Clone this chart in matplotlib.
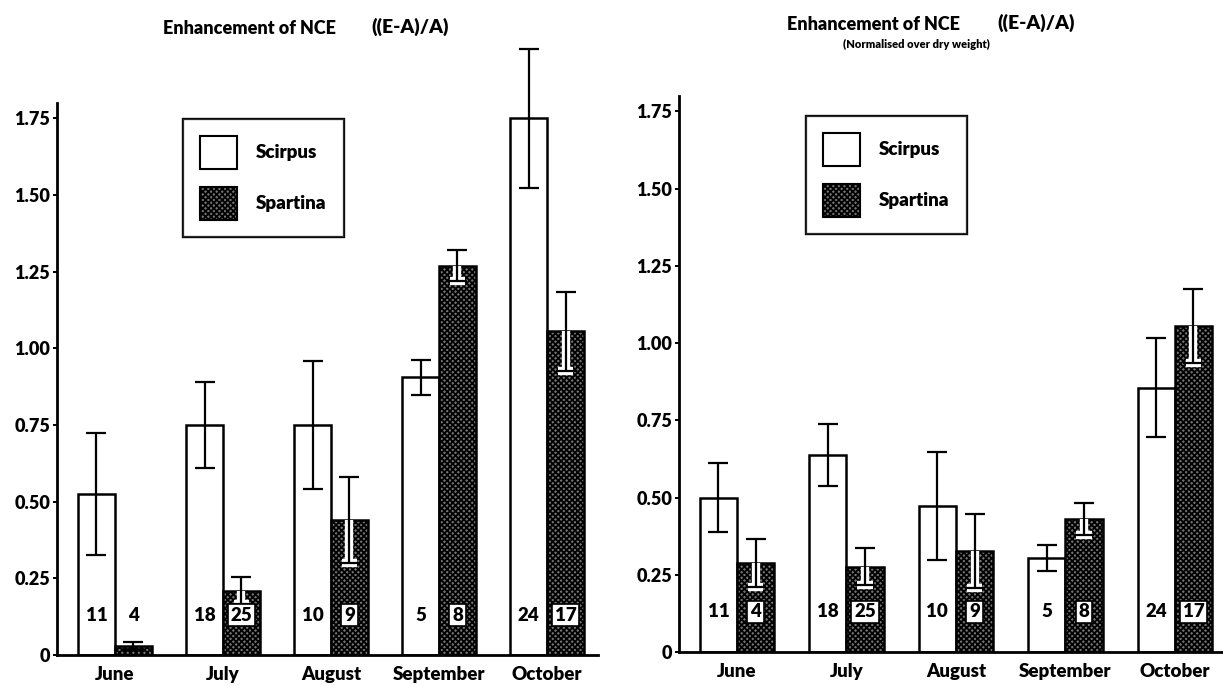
import numpy as np
import matplotlib
matplotlib.use('Agg')
import matplotlib.pyplot as plt
from matplotlib.patches import Patch

plt.rcParams['font.family'] = ['Lato', 'DejaVu Sans']
plt.rcParams['font.weight'] = 'bold'
plt.rcParams['hatch.linewidth'] = 1.3

# monthly means and error half-widths
months = ['June', 'July', 'August', 'September', 'October']

# ((E-A)/A), raw
scirpus_raw = [0.525, 0.75, 0.75, 0.905, 1.75]
scirpus_raw_err = [0.20, 0.14, 0.21, 0.057, 0.227]
spartina_raw = [0.03, 0.21, 0.44, 1.27, 1.055]
spartina_raw_err = [0.014, 0.043, 0.14, 0.052, 0.128]

# ((E-A)/A), normalised over dry weight
scirpus_dw = [0.50, 0.637, 0.473, 0.303, 0.855]
scirpus_dw_err = [0.113, 0.10, 0.175, 0.042, 0.16]
spartina_dw = [0.287, 0.276, 0.328, 0.43, 1.055]
spartina_dw_err = [0.078, 0.06, 0.12, 0.052, 0.12]

# number of samples
n_scirpus = [11, 18, 10, 5, 24]
n_spartina = [4, 25, 9, 8, 17]

yticks = [0, 0.25, 0.5, 0.75, 1.0, 1.25, 1.5, 1.75]
ytick_labels = ['0', '0.25', '0.50', '0.75', '1.00', '1.25', '1.50', '1.75']

W, H = 1223, 686
fig = plt.figure(figsize=(W / 100, H / 100), dpi=100)
fig.patch.set_facecolor('white')

ax1 = fig.add_axes([57 / W, 1 - 655 / H, (598 - 57) / W, (655 - 103) / H])
ax2 = fig.add_axes([679 / W, 1 - 652 / H, (1223 - 679) / W, (652 - 96) / H])

bw = 0.34
dark = '#767676'
hatch = 'xxxxxx'


def draw_panel(ax, sc, sc_err, sp, sp_err, xlim):
    x = np.arange(len(months))
    xs = x - bw / 2
    xp = x + bw / 2
    ax.bar(xs, sc, bw, color='white', edgecolor='black', linewidth=1.8, zorder=2)
    ax.bar(xp, sp, bw, color=dark, edgecolor='black', linewidth=1.8,
           hatch=hatch, zorder=2)
    # white channel for the lower half of the error bar inside the dark bars
    for xi, v, e in zip(xp, sp, sp_err):
        if v > 0.15:
            ax.plot([xi, xi], [v - e, v], color='white', lw=6, zorder=3,
                    solid_capstyle='butt')
            ax.plot([xi - 0.07, xi + 0.07], [v - e, v - e], color='white',
                    lw=6, zorder=3, solid_capstyle='butt')
    for xx, vv, ee in [(xs, sc, sc_err), (xp, sp, sp_err)]:
        eb = ax.errorbar(xx, vv, yerr=ee, fmt='none', ecolor='black',
                         elinewidth=1.6, capsize=7, capthick=1.6, zorder=4)
        for art in eb.lines[1] + eb.lines[2]:
            art.set_clip_on(False)

    for xi, n in zip(xs, n_scirpus):
        ax.text(xi, 0.13, str(n), ha='center', va='center', fontsize=13.5,
                fontweight='heavy', zorder=5)
    for xi, n, v in zip(xp, n_spartina, sp):
        box = None
        if v > 0.15:
            box = dict(boxstyle='square,pad=0.15', facecolor='white',
                       edgecolor='black', linewidth=1.2)
        ax.text(xi, 0.13, str(n), ha='center', va='center', fontsize=13.5,
                fontweight='heavy', bbox=box, zorder=5)

    ax.set_xlim(*xlim)
    ax.set_ylim(0, 1.8)
    ax.set_yticks(yticks)
    ax.set_yticklabels(ytick_labels, fontsize=13, fontweight='heavy')
    ax.set_xticks(x)
    ax.set_xticklabels(months, fontsize=13.5, fontweight='heavy')
    ax.tick_params(axis='y', direction='out', length=3, width=1.4, pad=2)
    ax.tick_params(axis='x', length=0, pad=8)
    for s in ['top', 'right']:
        ax.spines[s].set_visible(False)
    for s in ['left', 'bottom']:
        ax.spines[s].set_linewidth(2.0)
    ax.set_facecolor('none')

    handles = [Patch(facecolor='white', edgecolor='black', linewidth=1.5, label='Scirpus'),
               Patch(facecolor=dark, edgecolor='black', linewidth=1.5,
                     hatch=hatch, label='Spartina')]
    return handles


h = draw_panel(ax1, scirpus_raw, scirpus_raw_err, spartina_raw, spartina_raw_err,
               (-0.535, 4.47))
draw_panel(ax2, scirpus_dw, scirpus_dw_err, spartina_dw, spartina_dw_err,
           (-0.53, 4.44))

for left, top in [(183, 119), (806, 116)]:
    leg = fig.legend(handles=h, loc='upper left',
                     bbox_to_anchor=(left / W, 1 - top / H),
                     prop={'weight': 'heavy', 'size': 13.5},
                     handlelength=2.0, handleheight=2.3, labelspacing=1.0,
                     handletextpad=1.0, borderpad=0.9, borderaxespad=0,
                     fancybox=False, frameon=True, edgecolor='black')
    leg.get_frame().set_linewidth(1.6)
    fig.add_artist(leg)

# titles
fig.text(163 / W, 1 - 28 / H, 'Enhancement of NCE', fontsize=13,
         fontweight='heavy', va='center', ha='left')
fig.text(371 / W, 1 - 27 / H, '((E-A)/A)', fontsize=14,
         fontweight='heavy', va='center', ha='left')
fig.text(787 / W, 1 - 24 / H, 'Enhancement of NCE', fontsize=13,
         fontweight='heavy', va='center', ha='left')
fig.text(997 / W, 1 - 23 / H, '((E-A)/A)', fontsize=14,
         fontweight='heavy', va='center', ha='left')
fig.text(916 / W, 1 - 44 / H, '(Normalised over dry weight)', fontsize=8,
         fontweight='heavy', va='center', ha='center')

fig.savefig('out.png', dpi=100)
